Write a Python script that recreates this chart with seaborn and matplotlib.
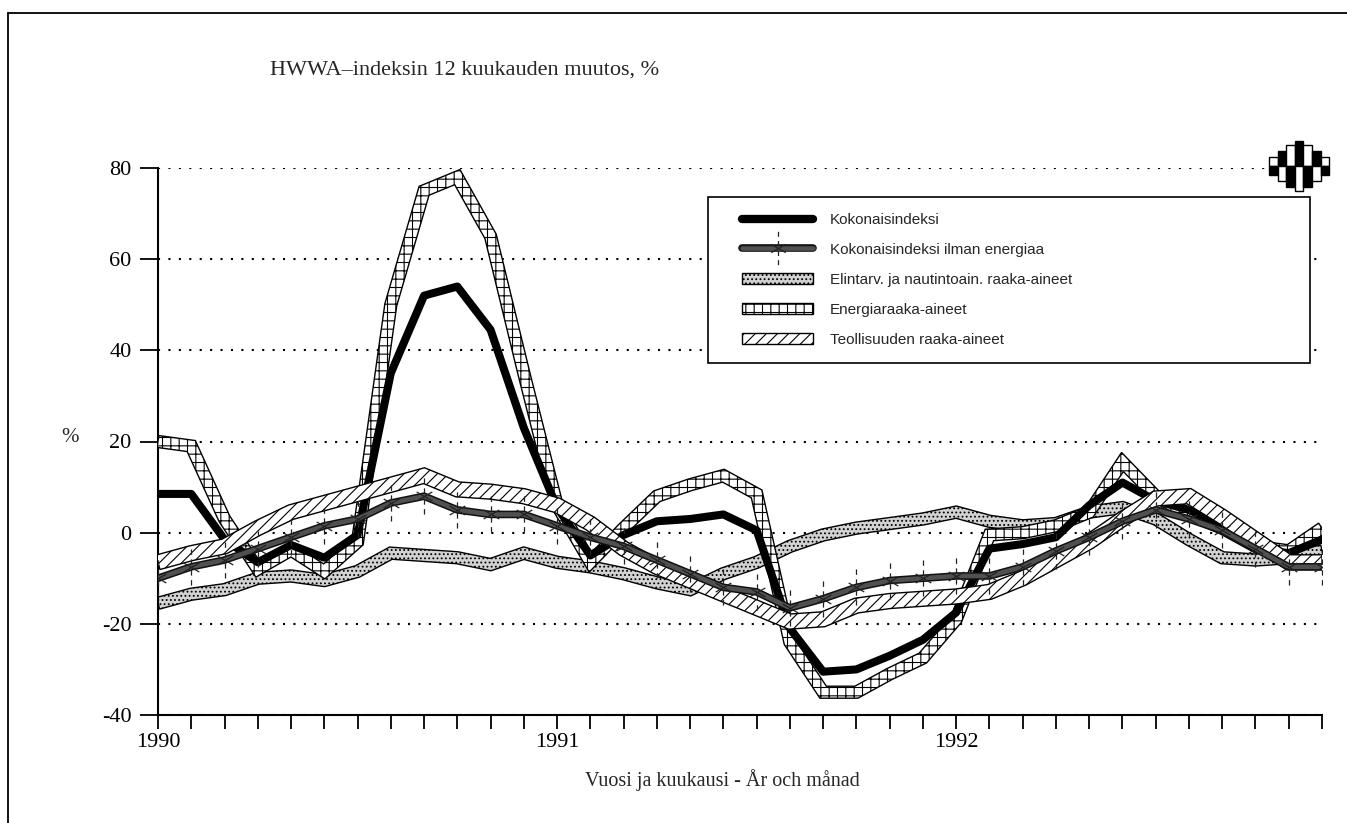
import numpy as np
import matplotlib
matplotlib.use("Agg")
import matplotlib.pyplot as plt
import seaborn as sns
import matplotlib.patheffects as pe
from matplotlib.patches import Patch, Rectangle
from matplotlib.lines import Line2D
from matplotlib.path import Path
from matplotlib.legend_handler import HandlerTuple, HandlerLine2D, HandlerPatch

# ---------------- data ----------------
months = list(range(36))  # Jan 1990 .. Dec 1992
kokonais = [8.5, 8.5, -1.5, -6.5, -2.7, -5.5, -0.5, 35, 52, 54, 44.5, 23,
            5.5, -5, -0.5, 2.5, 3, 4, 0.5, -21, -30.5, -30, -27, -23.5,
            -17.5, -3.5, -2.5, -1, 6, 11, 7, 5, 1.5, -3.5, -4.5, -1.5]
ilman = [-10, -7.5, -6, -3.5, -1, 1.5, 3, 6.5, 8, 5, 4, 4,
         1.5, -1, -3, -6, -9, -12, -13, -16.5, -14.5, -12, -10.5, -10,
         -9.5, -9.5, -7.5, -4, -1, 2.5, 5, 3, 0.5, -3.5, -7.5, -7.5]
elintarv = [-15.5, -13.5, -12.5, -10, -9.5, -10.5, -8.5, -4.5, -5, -5.5, -7, -4.5,
            -6.5, -7.5, -9, -11, -12.5, -9, -6.5, -3, -0.5, 1, 2, 3,
            4.5, 2.5, 1.5, 2, 4.5, 5.5, 3, -1.5, -5.5, -6, -5.5, -4]
energia = [20, 19, 3, -8, -3.8, -8.5, -2, 50, 75, 78, 65, 35,
           6, -6.5, 1, 8, 10.5, 12.5, 8.5, -24, -35, -35, -31, -27.5,
           -19, -0.5, 0, 1.5, 4.5, 15.5, 8, 4, 1, -3, -4, 1]
teollisuus = [-6.5, -4.5, -3, 1, 4.5, 6.5, 8.5, 10.5, 12.5, 9.5, 9, 8,
              6, 2, -3.5, -7.5, -10.5, -13.5, -16.5, -19.5, -19, -16, -15, -14.5,
              -14, -13, -10, -6, -2, 3, 7.5, 8, 3.5, -1.5, -6.5, -6.5]

series_labels = ["Kokonaisindeksi", "Kokonaisindeksi ilman energiaa",
                 "Elintarv. ja nautintoain. raaka-aineet", "Energiaraaka-aineet",
                 "Teollisuuden raaka-aineet"]
year_ticks = [0, 12, 24]
year_labels = ["1990", "1991", "1992"]
y_ticks = [-40, -20, 0, 20, 40, 60, 80]
y_tick_labels = ["-40", "-20", "0", "20", "40", "60", "80"]
title = "HWWA\u2013indeksin 12 kuukauden muutos, %"
xlabel = "Vuosi ja kuukausi - \u00c5r och m\u00e5nad"

# ---------------- style ----------------
sns.set_style("white")
plt.rcParams["font.family"] = ["Liberation Serif", "DejaVu Serif"]
plt.rcParams["hatch.linewidth"] = 0.8
plt.rcParams["axes.unicode_minus"] = False

W, H = 1347, 823
fig = plt.figure(figsize=(W / 100, H / 100), dpi=100)
fig.patch.set_facecolor("white")
ax = fig.add_axes([158 / W, 1 - 715 / H, 1164 / W, 547 / H])
ax.set_xlim(0, 35)
ax.set_ylim(-40, 80)


def ribbon(ax, x, y, width_px):
    pts = ax.transData.transform(np.column_stack([x, y]))
    d = np.diff(pts, axis=0)
    seg = np.column_stack([-d[:, 1], d[:, 0]])
    seg /= np.hypot(seg[:, 0], seg[:, 1])[:, None]
    n = np.zeros_like(pts)
    n[0] = seg[0]
    n[-1] = seg[-1]
    for i in range(1, len(pts) - 1):
        m = seg[i - 1] + seg[i]
        nm = np.hypot(*m)
        m = seg[i] if nm < 1e-9 else m / nm
        c = max(np.dot(m, seg[i]), 0.35)
        n[i] = m / c
    up = pts + n * width_px / 2
    lo = pts - n * width_px / 2
    poly = np.vstack([up, lo[::-1]])
    return ax.transData.inverted().transform(poly)


# asterisk marker: dashed vertical stroke plus two slanted arms
_verts, _codes = [], []
for a, b in [(-1.0, -0.7), (-0.45, -0.15), (0.15, 0.45), (0.7, 1.0)]:
    _verts += [(0, a), (0, b)]
    _codes += [Path.MOVETO, Path.LINETO]
for ang in (np.deg2rad(30), np.deg2rad(150)):
    dx, dy = 0.5 * np.cos(ang), 0.5 * np.sin(ang)
    _verts += [(-dx, -dy), (dx, dy)]
    _codes += [Path.MOVETO, Path.LINETO]
star_marker = Path(_verts, _codes)

ILM_FACE = "#505050"
ilm_fx = [pe.Stroke(linewidth=5.5, foreground="#111111"), pe.Normal()]

# gray stippled band (Elintarv.)
p = ribbon(ax, months, elintarv, 12)
ax.fill(p[:, 0], p[:, 1], facecolor="#d2d2d2", edgecolor="black", hatch="....",
        linewidth=1.0, zorder=2)
# energy ladder band
p = ribbon(ax, months, energia, 12)
ax.fill(p[:, 0], p[:, 1], facecolor="white", edgecolor="black", hatch="++",
        linewidth=1.0, zorder=3)
# total index: thick black line
sns.lineplot(x=months, y=kokonais, color="black", linewidth=5.8, ax=ax,
             legend=False, zorder=4)
# industrial raw materials: diagonal hatch band
p = ribbon(ax, months, teollisuus, 15)
ax.fill(p[:, 0], p[:, 1], facecolor="white", edgecolor="black", hatch="///",
        linewidth=1.0, zorder=5)
# total without energy: stippled dark line + asterisk markers
sns.lineplot(x=months, y=ilman, color=ILM_FACE, linewidth=3.3, ax=ax, legend=False,
             zorder=6, path_effects=ilm_fx)
ax.plot(months, ilman, linestyle="none", marker=star_marker, markersize=26, mew=0.9,
        color="#222222", zorder=7)

# ---------------- axes ----------------
for s in ["top", "right"]:
    ax.spines[s].set_visible(False)
for s in ["left", "bottom"]:
    ax.spines[s].set_linewidth(1.5)
    ax.spines[s].set_color("black")

ax.set_xticks(months)
ax.set_xticklabels([year_labels[year_ticks.index(m)] if m in year_ticks else "" for m in months])
ax.set_yticks(y_ticks)
ax.set_yticklabels(y_tick_labels)
ax.tick_params(axis="x", direction="out", length=10, width=1.3, pad=3, labelsize=16,
               colors="black", bottom=True)
ax.tick_params(axis="y", direction="out", length=13, width=1.3, pad=6, labelsize=16,
               colors="black", left=True)
ax.grid(axis="y", linestyle=(0, (1, 4)), linewidth=1.5, color="black")
ax.grid(axis="x", visible=False)
ax.set_xlabel("")
ax.set_ylabel("")

# ---------------- legend ----------------
XPAD = 1.2
h_tot = Line2D([], [], color="black", linewidth=6)
h_ilm = (Line2D([], [], color=ILM_FACE, linewidth=3.3, path_effects=ilm_fx),
         Line2D([], [], linestyle="none", marker=star_marker, markersize=24, mew=0.9,
                color="#222222"))
h_eli = Patch(facecolor="#d2d2d2", edgecolor="black", hatch="....", linewidth=1.0)
h_ene = Patch(facecolor="white", edgecolor="black", hatch="++", linewidth=1.0)
h_teo = Patch(facecolor="white", edgecolor="black", hatch="///", linewidth=1.0)
leg = ax.legend([h_tot, h_ilm, h_eli, h_ene, h_teo], series_labels,
                handler_map={tuple: HandlerTuple(ndivide=1, pad=0, xpad=XPAD),
                             Line2D: HandlerLine2D(xpad=XPAD),
                             Patch: HandlerPatch(xpad=XPAD)},
                loc="upper left", bbox_to_anchor=(0.4725, 0.5, 0.517, 0.447),
                mode="expand", borderaxespad=0, fancybox=False, framealpha=1,
                edgecolor="black", prop={"family": "Liberation Sans", "size": 11},
                handlelength=4.6 + XPAD, handleheight=0.8, labelspacing=1.03,
                borderpad=1.05, handletextpad=1.15, numpoints=1)
leg.get_frame().set_linewidth(1.2)
leg.set_zorder(10)

# ---------------- texts ----------------
fig.text(270 / W, 1 - 70 / H, title, fontsize=16, ha="left", va="center")
fig.text(722 / W, 1 - 780 / H, xlabel, fontsize=14.5, ha="center", va="center")
fig.text(70 / W, 1 - 437 / H, "%", fontsize=15, ha="center", va="center")

# outer frame (left and top edges visible)
fig.add_artist(Line2D([8 / W, 8 / W], [0, 1 - 13 / H], transform=fig.transFigure,
                      color="black", linewidth=1.3))
fig.add_artist(Line2D([8 / W, 1], [1 - 13 / H, 1 - 13 / H], transform=fig.transFigure,
                      color="black", linewidth=1.3))

# small logo (top right)
half_heights = [9, 15, 21, 25, 21, 15, 9]
col_w = 8.6
x0, yc = 1269, 166
for i, hh in enumerate(half_heights):
    upper = "black" if i % 2 else "white"
    lower = "white" if i % 2 else "black"
    fig.add_artist(Rectangle(((x0 + i * col_w) / W, 1 - yc / H), col_w / W, hh / H,
                             transform=fig.transFigure, facecolor=upper,
                             edgecolor="black", linewidth=1.0))
    fig.add_artist(Rectangle(((x0 + i * col_w) / W, 1 - (yc + hh) / H), col_w / W, hh / H,
                             transform=fig.transFigure, facecolor=lower,
                             edgecolor="black", linewidth=1.0))

fig.savefig("out.png", dpi=100, facecolor="white")
